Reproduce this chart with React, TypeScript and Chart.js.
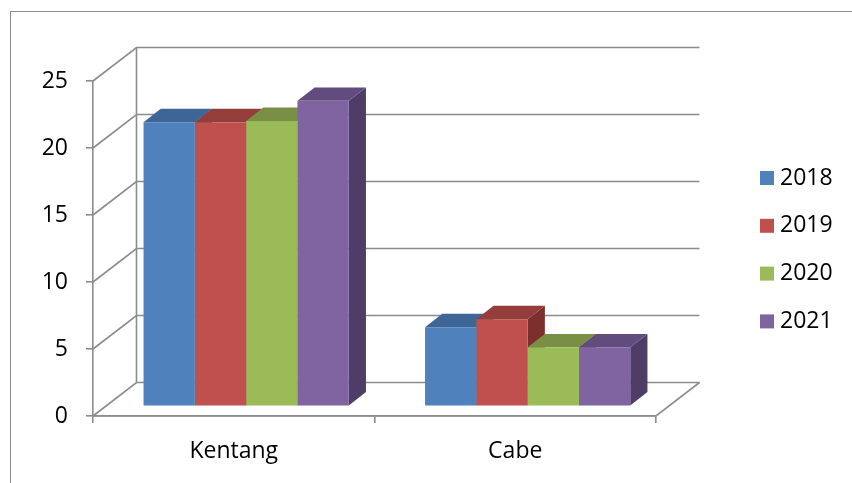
import React, { useEffect, useRef } from "react";
import { Chart, registerables } from "chart.js";

Chart.register(...registerables);

// ---- data ----
const categories = ["Kentang", "Cabe"];
const seriesLabels = ["2018", "2019", "2020", "2021"];
const values2018 = [21.2, 5.9];
const values2019 = [21.2, 6.5];
const values2020 = [21.3, 4.4];
const values2021 = [22.8, 4.4];
const yTickValues = [0, 5, 10, 15, 20, 25];

// ---- styles ----
const frontColors = ["#4F81BD", "#C0504D", "#9BBB59", "#8064A2"];
const topColors = ["#3D6595", "#953D3B", "#788F45", "#614C7D"];
const sideColors = ["#324F75", "#7C2F2D", "#5F7236", "#4E3D66"];
const FONT = "'Open Sans', 'Noto Sans', sans-serif";
const FONT_SIZE = 23;
const GRID = "#8c8c8c";

// oblique projection offsets
const WALL_DX = 43.5;
const WALL_DY = -33.5;
const BAR_OFF_DX = 12.4;
const BAR_OFF_DY = -9.7;
const BAR_DEPTH_DX = 17.2;
const BAR_DEPTH_DY = -13.4;

// legend layout
const LEGEND_X = 760;
const LEGEND_Y0 = 178;
const LEGEND_STEP = 47.8;
const LEGEND_BOX = 14;

const threeD = {
  id: "threeD",
  beforeDraw(chart: any) {
    const ctx = chart.ctx;
    ctx.save();
    ctx.fillStyle = "#ffffff";
    ctx.fillRect(0, 0, chart.width, chart.height);
    ctx.strokeStyle = GRID;
    ctx.lineWidth = 1;
    ctx.strokeRect(10.5, 11.5, chart.width + 20, chart.height + 20);
    ctx.restore();
  },
  beforeDatasetsDraw(chart: any) {
    const { ctx, chartArea, scales } = chart;
    const ys = scales.y;
    const left = chartArea.left;
    const right = chartArea.right;
    const bottom = chartArea.bottom;
    ctx.save();
    ctx.strokeStyle = GRID;
    ctx.lineWidth = 1.6;
    ctx.lineJoin = "miter";
    for (const v of yTickValues) {
      const py = ys.getPixelForValue(v);
      ctx.beginPath();
      ctx.moveTo(left, py);
      ctx.lineTo(left + WALL_DX, py + WALL_DY);
      ctx.lineTo(right + WALL_DX, py + WALL_DY);
      ctx.stroke();
    }
    const y0 = ys.getPixelForValue(yTickValues[0]);
    const yMax = ys.getPixelForValue(yTickValues[yTickValues.length - 1]);
    ctx.beginPath();
    ctx.moveTo(left + WALL_DX, y0 + WALL_DY);
    ctx.lineTo(left + WALL_DX, yMax + WALL_DY);
    ctx.stroke();
    ctx.beginPath();
    ctx.moveTo(left, bottom);
    ctx.lineTo(right, bottom);
    ctx.lineTo(right + WALL_DX, bottom + WALL_DY);
    ctx.stroke();
    ctx.restore();

    // top and side faces of every bar, painted left to right (series 0..n within each category)
    ctx.save();
    ctx.translate(BAR_OFF_DX, BAR_OFF_DY);
    const nCat = chart.data.labels.length;
    const nDs = chart.data.datasets.length;
    for (let c = 0; c < nCat; c++) {
      for (let i = 0; i < nDs; i++) {
        const el = chart.getDatasetMeta(i).data[c];
        if (!el) continue;
        const { x, y, base, width } = el.getProps(["x", "y", "base", "width"], true);
        const l = x - width / 2;
        const r = x + width / 2;
        ctx.beginPath();
        ctx.moveTo(r, y);
        ctx.lineTo(r + BAR_DEPTH_DX, y + BAR_DEPTH_DY);
        ctx.lineTo(r + BAR_DEPTH_DX, base + BAR_DEPTH_DY);
        ctx.lineTo(r, base);
        ctx.closePath();
        ctx.fillStyle = sideColors[i];
        ctx.fill();
        ctx.beginPath();
        ctx.moveTo(l, y);
        ctx.lineTo(r, y);
        ctx.lineTo(r + BAR_DEPTH_DX, y + BAR_DEPTH_DY);
        ctx.lineTo(l + BAR_DEPTH_DX, y + BAR_DEPTH_DY);
        ctx.closePath();
        ctx.fillStyle = topColors[i];
        ctx.fill();
      }
    }
    ctx.restore();
  },
  beforeDatasetDraw(chart: any) {
    const ctx = chart.ctx;
    ctx.save();
    ctx.translate(BAR_OFF_DX, BAR_OFF_DY);
  },
  afterDatasetDraw(chart: any) {
    chart.ctx.restore();
  },
  afterDraw(chart: any) {
    const ctx = chart.ctx;
    ctx.save();
    ctx.font = `${FONT_SIZE}px ${FONT}`;
    ctx.textBaseline = "middle";
    ctx.textAlign = "left";
    chart.data.datasets.forEach((ds: any, i: number) => {
      const cy = LEGEND_Y0 + i * LEGEND_STEP;
      ctx.fillStyle = ds.backgroundColor;
      ctx.fillRect(LEGEND_X, cy - LEGEND_BOX / 2, LEGEND_BOX, LEGEND_BOX);
      ctx.fillStyle = "#000";
      ctx.fillText(ds.label, LEGEND_X + 20, cy);
    });
    ctx.restore();
  },
};

export default function App() {
  const ref = useRef<HTMLCanvasElement | null>(null);
  useEffect(() => {
    if (!ref.current) return;
    const seriesValues = [values2018, values2019, values2020, values2021];
    const chart = new Chart(ref.current, {
      type: "bar",
      data: {
        labels: categories,
        datasets: seriesLabels.map((label, i) => ({
          label,
          data: seriesValues[i],
          backgroundColor: frontColors[i],
          borderWidth: 0,
          barPercentage: 1,
          categoryPercentage: 0.729,
          clip: false as any,
        })),
      },
      options: {
        responsive: false,
        animation: false,
        layout: { padding: { top: 81, right: 196, left: 0, bottom: 0 } },
        plugins: { legend: { display: false }, tooltip: { enabled: false } },
        scales: {
          x: {
            offset: true,
            grid: { offset: true, drawOnChartArea: false, tickLength: 7, color: GRID, lineWidth: 1.6 },
            border: { display: true, color: GRID, width: 1.6 },
            ticks: { padding: 15, color: "#000", font: { family: FONT, size: FONT_SIZE }, maxRotation: 0, minRotation: 0 },
            afterFit: (s: any) => {
              s.height = 67;
            },
          },
          y: {
            min: 0,
            max: 25,
            afterBuildTicks: (s: any) => {
              s.ticks = yTickValues.map((v) => ({ value: v }));
            },
            grid: { drawOnChartArea: false, tickLength: 7, color: GRID, lineWidth: 1.6 },
            border: { display: true, color: GRID, width: 1.6 },
            ticks: { padding: 18, color: "#000", font: { family: FONT, size: FONT_SIZE } },
            afterFit: (s: any) => {
              s.width = 93;
            },
          },
        },
      },
      plugins: [threeD],
    });
    return () => chart.destroy();
  }, []);
  return (
    <div style={{ position: "fixed", left: 0, top: 0, width: 852, height: 483 }}>
      <canvas ref={ref} width={852} height={483} />
    </div>
  );
}
